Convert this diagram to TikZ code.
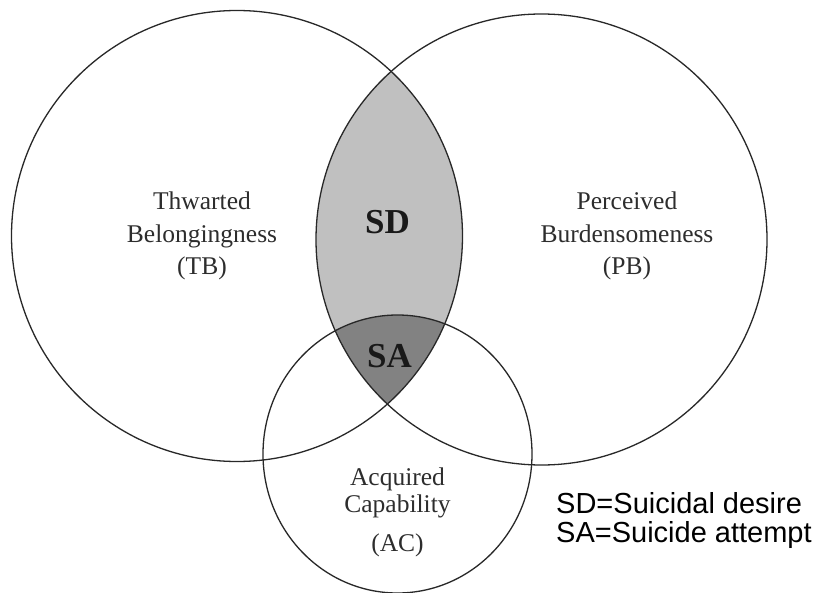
\documentclass[tikz,border=0pt]{standalone}
\usepackage{fontspec}
\setmainfont{Liberation Serif}
\newfontfamily\legendfont{Liberation Sans}
\definecolor{sdfill}{RGB}{192,192,192}
\definecolor{safill}{RGB}{130,130,130}
\definecolor{linecol}{RGB}{40,40,40}
\definecolor{labelcol}{RGB}{45,45,45}
\begin{document}
\begin{tikzpicture}[x=1bp,y=-1bp,
  setline/.style={draw=linecol, line width=1.3bp},
  lbl/.style={text=labelcol, font=\fontsize{25.5bp}{30bp}\selectfont, inner sep=0pt, anchor=base},
  biglbl/.style={text=black!90, font=\fontsize{35bp}{40bp}\selectfont\bfseries, inner sep=0pt, anchor=base},
  legend/.style={text=black, font=\legendfont\fontsize{29bp}{32bp}\selectfont, inner sep=0pt, anchor=base west}]
\useasboundingbox (0,0) rectangle (817,593);
\fill[white] (0,0) rectangle (817,593);
% centres
\coordinate (cL) at (237,236);
\coordinate (cR) at (541.5,239.5);
\coordinate (cB) at (397.5,454);
% SD lens
\begin{scope}
  \clip (cL) circle (225.5bp);
  \fill[sdfill] (cR) circle (225.5bp);
\end{scope}
% SA region
\begin{scope}
  \clip (cL) circle (225.5bp);
  \clip (cR) circle (225.5bp);
  \fill[safill] (cB) ellipse [x radius=134.5bp, y radius=139bp];
\end{scope}
% outlines
\draw[setline] (cL) circle (225.5bp);
\draw[setline] (cR) circle (225.5bp);
\draw[setline] (cB) ellipse [x radius=134.5bp, y radius=139bp];
% labels
\node[lbl] (tb1) at (202,210) {Thwarted};
\node[lbl] (tb2) at (202,242.5) {Belongingness};
\node[lbl] (tb3) at (202,274.5) {(TB)};
\node[lbl] (pb1) at (627,210) {Perceived};
\node[lbl] (pb2) at (627,242.5) {Burdensomeness};
\node[lbl] (pb3) at (627,274.5) {(PB)};
\node[lbl] (ac1) at (397.5,485) {Acquired};
\node[lbl] (ac2) at (397.5,512) {Capability};
\node[lbl] (ac3) at (397.5,551) {(AC)};
\node[biglbl] (sd) at (387.5,234) {SD};
\node[biglbl] (sa) at (389.5,367) {SA};
\node[legend] (leg1) at (556,513) {SD=Suicidal desire};
\node[legend] (leg2) at (556,542) {SA=Suicide attempt};
\end{tikzpicture}
\end{document}
